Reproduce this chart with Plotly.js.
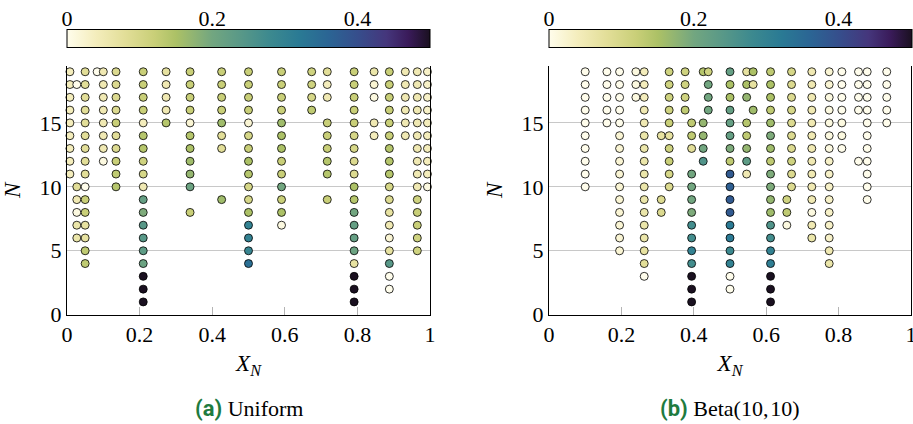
<!DOCTYPE html>
<html><head><meta charset="utf-8">
<script src="https://cdn.plot.ly/plotly-3.0.1.min.js"></script>
<style>body{margin:0;background:#fff}</style>
</head><body><div id="chart" style="width:913px;height:424px"></div>
<script>
// ---------- Data: panel (a) Uniform ----------
const uniformColX = [0.008, 0.027, 0.05, 0.083, 0.10, 0.135, 0.21, 0.273, 0.339, 0.426, 0.50, 0.591, 0.674, 0.717, 0.791, 0.846, 0.888, 0.932, 0.965, 0.993];
const uniformColN = [
  [19,18,17,16,15,14,13,12,11],
  [18,10,9,8,7,6],
  [19,18,17,16,15,14,13,12,11,10,9,8,7,6,5,4],
  [19],
  [19,18,17,16,15,14,13,12],
  [19,18,17,16,15,14,13,12,11,10],
  [19,18,17,16,15,14,13,12,11,10,9,8,7,6,5,4,3,2,1],
  [19,18,17,16,15],
  [19,18,17,16,15,14,13,12,11,10,8],
  [19,18,17,16,15,14,13,9],
  [19,18,17,16,15,14,13,12,11,10,9,8,7,6,5,4],
  [19,18,17,16,15,14,13,12,11,10,9,8,7],
  [19,18,17,16],
  [19,18,17,15,14,13,12,11,9],
  [19,18,17,16,15,14,13,12,11,10,9,8,7,6,5,4,3,2,1],
  [19,18,17,15,14],
  [19,18,17,16,15,14,13,12,11,10,9,8,7,6,5,4,3,2],
  [19,18,17,16,15,14],
  [19,18,17,16,15,14,13,12,11,10,9,8,7,6,5],
  [19,18,17,16,15,14,13,12,11,10]
];
const uniformColV = [
  [0.04,0.04,0.04,0.04,0.04,0.04,0.04,0.04,0.04],
  [0.0,0.08,0.05,0.01,0.06,0.06],
  [0.08,0.08,0.08,0.08,0.08,0.08,0.08,0.08,0.08,0.0,0.12,0.12,0.07,0.07,0.13,0.13],
  [0.0],
  [0.05,0.05,0.05,0.05,0.05,0.05,0.05,0.01],
  [0.09,0.09,0.09,0.09,0.12,0.08,0.09,0.12,0.13,0.14],
  [0.12,0.12,0.12,0.12,0.04,0.14,0.14,0.11,0.10,0.05,0.22,0.19,0.24,0.24,0.23,0.21,0.5,0.5,0.5],
  [0.07,0.05,0.05,0.05,0.14],
  [0.12,0.12,0.12,0.12,0.02,0.14,0.15,0.16,0.17,0.21,0.12],
  [0.12,0.12,0.12,0.12,0.16,0.08,0.08,0.16],
  [0.12,0.12,0.12,0.12,0.02,0.10,0.12,0.15,0.14,0.10,0.10,0.15,0.30,0.30,0.29,0.34],
  [0.12,0.12,0.12,0.12,0.16,0.15,0.15,0.12,0.12,0.20,0.12,0.15,0.01],
  [0.11,0.11,0.10,0.13],
  [0.08,0.04,0.05,0.12,0.12,0.12,0.14,0.14,0.12],
  [0.12,0.12,0.12,0.12,0.12,0.10,0.10,0.09,0.09,0.15,0.14,0.20,0.22,0.22,0.21,0.07,0.5,0.5,0.5],
  [0.06,0.02,0.01,0.05,0.04],
  [0.12,0.12,0.12,0.12,0.12,0.12,0.14,0.14,0.14,0.10,0.09,0.07,0.05,0.02,0.07,0.24,0.0,0.0],
  [0.05,0.05,0.05,0.05,0.05,0.05],
  [0.05,0.05,0.05,0.05,0.05,0.05,0.05,0.05,0.05,0.05,0.11,0.12,0.12,0.11,0.11],
  [0.03,0.03,0.03,0.03,0.04,0.04,0.04,0.04,0.04,0.01]
];

// ---------- Data: panel (b) Beta(10,10) ----------
const betaColX = [0.10, 0.16, 0.195, 0.24, 0.263, 0.31, 0.332, 0.376, 0.394, 0.426, 0.44, 0.50, 0.546, 0.564, 0.612, 0.657, 0.67, 0.726, 0.774, 0.809, 0.855, 0.879, 0.933];
const betaColN = [
  [19,18,17,16,15,14,13,12,11,10],
  [19,18,17,16,15],
  [19,18,17,16,15,14,13,12,11,10,9,8,7,6,5],
  [19,18,17],
  [19,18,17,16,15,14,13,12,11,10,9,8,7,6,5,4,3],
  [14,9,8],
  [19,18,17,16,15,14,13,12,11,10],
  [19,18,17,16],
  [15,14,13,11,10,9,8,7,6,5,4,3,2,1],
  [19,15,14,13,12],
  [19,18,17,16],
  [19,18,17,16,15,14,13,12,11,10,9,8,7,6,5,4,3,2],
  [19,18,17,15,14,13,12,11],
  [19,18,16],
  [19,18,17,16,15,14,13,12,11,10,9,8,7,6,5,4,3,2,1],
  [9,8,7],
  [19,18,17,16,15,14,13,12,11,10],
  [19,18,17,16,15,14,13,12,11,10,9,8,7,6],
  [19,18,17,16,15,14,13,12,11,10,9,8,7,6,5,4],
  [19,18,17,16,15,14,13],
  [19,18,17,16,12],
  [19,18,17,16,15,14,13,12,11,10,9],
  [19,18,17,16,15]
];
const betaColV = [
  [0,0,0,0,0,0,0,0,0,0],
  [0,0,0,0,0],
  [0,0,0,0,0,0.02,0.02,0.02,0.02,0.02,0.02,0.02,0.02,0.02,0.02],
  [0.01,0.01,0.01],
  [0.04,0.04,0.04,0.05,0.05,0.06,0.06,0.06,0.06,0.06,0.06,0.06,0.06,0.06,0.07,0.08,0.0],
  [0.07,0.09,0.09],
  [0.11,0.11,0.11,0.11,0.12,0.07,0.11,0.12,0.10,0.09],
  [0.11,0.11,0.11,0.13],
  [0.13,0.13,0.08,0.20,0.20,0.20,0.19,0.27,0.27,0.30,0.27,0.5,0.5,0.5],
  [0.14,0.17,0.17,0.20,0.25],
  [0.11,0.20,0.20,0.20],
  [0.22,0.15,0.15,0.22,0.22,0.22,0.19,0.13,0.38,0.37,0.38,0.38,0.32,0.32,0.28,0.30,0.0,0.0],
  [0.07,0.15,0.17,0.14,0.13,0.17,0.23,0.05],
  [0.15,0.07,0.16],
  [0.13,0.15,0.15,0.13,0.16,0.19,0.16,0.13,0.19,0.19,0.17,0.16,0.25,0.27,0.30,0.31,0.5,0.5,0.5],
  [0.11,0.13,0.01],
  [0.10,0.09,0.09,0.10,0.09,0.09,0.09,0.11,0.09,0.09],
  [0.05,0.05,0.05,0.05,0.05,0.05,0.05,0.05,0.05,0.05,0.05,0.01,0.05,0.06],
  [0.02,0.02,0.01,0.01,0.01,0.01,0.01,0.03,0.03,0.03,0.03,0.03,0.03,0.03,0.05,0.06],
  [0,0,0,0,0.01,0.01,0],
  [0,0,0,0,0],
  [0,0,0,0,0,0,0,0,0,0,0],
  [0,0,0,0,0]
];

// ---------- Tick labels ----------
const xTicks = [0, 0.2, 0.4, 0.6, 0.8, 1];
const xTickText = ['0', '0.2', '0.4', '0.6', '0.8', '1'];
const yTicks = [0, 5, 10, 15];
const cbTicks = [0, 0.2, 0.4];
const cbTickText = ['0', '0.2', '0.4'];
const captions = ['Uniform', 'Beta(10,\u200a10)'];
const captionTags = ['(a)', '(b)'];

// ---------- Build ----------
function flatten(colX, colN, colV) {
  const x = [], y = [], c = [];
  colX.forEach((xv, i) => {
    colN[i].forEach((n, j) => { x.push(xv); y.push(n); c.push(colV[i][j]); });
  });
  return {x, y, c};
}
const A = flatten(uniformColX, uniformColN, uniformColV);
const B = flatten(betaColX, betaColN, betaColV);

const cscale = [
  [0.0, '#fffdec'], [0.08, '#f4edbc'], [0.16, '#e2de98'], [0.24, '#c9cf78'],
  [0.30, '#acc166'], [0.40, '#72a680'], [0.48, '#589888'], [0.56, '#3c898f'],
  [0.64, '#2a7a94'], [0.72, '#2b6594'], [0.80, '#364e8c'], [0.88, '#45367c'],
  [0.94, '#3a1b5a'], [1.0, '#1a1020']
];

const mk = (c, ca) => ({size: 8, color: c, coloraxis: ca, line: {color: '#000', width: 0.8}});
const traces = [
  {type: 'scatter', mode: 'markers', x: A.x, y: A.y, xaxis: 'x', yaxis: 'y', marker: mk(A.c, 'coloraxis'), cliponaxis: false, hoverinfo: 'skip'},
  {type: 'scatter', mode: 'markers', x: B.x, y: B.y, xaxis: 'x2', yaxis: 'y2', marker: mk(B.c, 'coloraxis2'), cliponaxis: false, hoverinfo: 'skip'},
  {type: 'scatter', mode: 'markers', x: [], y: [], xaxis: 'x3', yaxis: 'y', hoverinfo: 'skip'},
  {type: 'scatter', mode: 'markers', x: [], y: [], xaxis: 'x4', yaxis: 'y2', hoverinfo: 'skip'}
];

const FONT = 'Liberation Serif';
const dA = [67/913, 430/913], dB = [549/913, 911/913];
const yDom = [1 - 314.7/424, 1 - 66/424];
const cbTop = 1 - 30/424, cbBot = 1 - 48/424;

function xax(dom, anchor) {
  return {domain: dom, anchor: anchor, range: [0, 1], tickvals: xTicks, ticktext: xTickText,
    ticks: 'inside', ticklen: 8, tickcolor: '#b4b4b4', tickwidth: 1, ticklabeloverflow: 'allow',
    showline: true, linecolor: '#000', linewidth: 1, mirror: false,
    showgrid: false, zeroline: false, tickfont: {family: FONT, size: 22},
    title: {text: '<i>X</i><sub><i>N</i></sub>', font: {family: FONT, size: 23}, standoff: 8}};
}
function yax(anchor) {
  return {domain: yDom, anchor: anchor, range: [0, 19.45], tickvals: yTicks,
    ticks: '', showline: true, linecolor: '#000', linewidth: 1, mirror: true,
    showgrid: true, gridcolor: '#c8c8c8', gridwidth: 1, zeroline: false,
    tickfont: {family: FONT, size: 22},
    title: {text: '<i>N</i>', font: {family: FONT, size: 23}, standoff: 12}};
}
function cbax(overlay) {
  return {overlaying: overlay, anchor: 'free', position: cbTop, side: 'top', range: [0, 0.5],
    tickvals: cbTicks, ticktext: cbTickText, ticks: '', showline: false, showgrid: false,
    zeroline: false, tickfont: {family: FONT, size: 22}};
}
function cax(cx) {
  return {cmin: 0, cmax: 0.5, colorscale: cscale,
    colorbar: {orientation: 'h', x: cx, xanchor: 'center', y: (cbTop + cbBot) / 2, yanchor: 'middle',
      len: 363, lenmode: 'pixels', thickness: 18, thicknessmode: 'pixels', xpad: 0, ypad: 0,
      outlinewidth: 1, outlinecolor: '#000', showticklabels: false, ticks: ''}};
}

const shapes = [];
['x3', 'x4'].forEach(ax => cbTicks.filter(t => t > 0).forEach(t => shapes.push({
  type: 'line', xref: ax, yref: 'paper', x0: t, x1: t, y0: cbBot, y1: cbTop,
  line: {color: '#8a8a8a', width: 1}, layer: 'above'})));

const annotations = captions.map((cap, i) => ({
  xref: 'paper', yref: 'paper', x: i === 0 ? (dA[0] + dA[1]) / 2 : (dB[0] + dB[1]) / 2, y: 1 - 408/424,
  xanchor: 'center', yanchor: 'middle', showarrow: false,
  text: '<b><span style="color:#1e7b3f;font-family:Roboto">' + captionTags[i] + '</span></b> ' + cap,
  font: {family: FONT, size: 22, color: '#000'}
}));

const layout = {
  width: 913, height: 424, margin: {l: 0, r: 0, t: 0, b: 0},
  paper_bgcolor: '#fff', plot_bgcolor: 'rgba(0,0,0,0)', showlegend: false,
  font: {family: FONT, size: 22, color: '#000'},
  xaxis: xax(dA, 'y'), yaxis: yax('x'),
  xaxis2: xax(dB, 'y2'), yaxis2: yax('x2'),
  xaxis3: cbax('x'), xaxis4: cbax('x2'),
  coloraxis: cax((dA[0] + dA[1]) / 2), coloraxis2: cax((dB[0] + dB[1]) / 2),
  shapes: shapes, annotations: annotations
};

Plotly.newPlot('chart', traces, layout, {staticPlot: true, displayModeBar: false});
</script></body></html>
